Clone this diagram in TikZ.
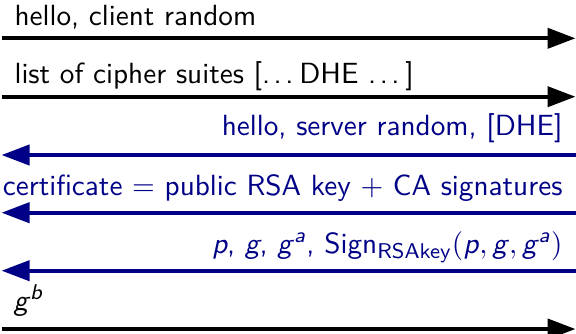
\documentclass[tikz,border=0pt]{standalone}
\usepackage{amsmath}
\usetikzlibrary{arrows.meta}
\definecolor{srvblue}{RGB}{0,0,135}
% spaced ellipsis with a trailing kern
\newcommand\spdots{.\kern1.3pt.\kern1.3pt.\kern2.2pt}
\begin{document}
\begin{tikzpicture}[x=0.375pt,y=-0.375pt,
  msg/.style={line width=1.5pt,-{Triangle[length=10.5pt,width=7.5pt]}},
  lbl/.style={inner sep=0pt,font=\sffamily\fontsize{10.95}{13}\selectfont},
  client/.style={msg,black},
  server/.style={msg,srvblue},
]
\useasboundingbox (0,0) rectangle (576,333);

% line ends: client side on the left, server side on the right
\foreach \i/\y in {1/38.3,2/96.7,3/155,4/212.7,5/270.7,6/329}{
  \coordinate (c\i) at (1.5,\y);
  \coordinate (s\i) at (575.5,\y);
}

% client -> server
\node[lbl,anchor=base west] (m1) at (14,25) {hello, client random};
\draw[client] (c1) -- (s1);

\node[lbl,anchor=base west] (m2) at (14,83) {list of cipher suites [\spdots DHE \spdots]};
\draw[client] (c2) -- (s2);

% server -> client
\node[lbl,anchor=base east,text=srvblue] (m3) at (563,135) {hello, server random, [DHE]};
\draw[server] (s3) -- (c3);

\node[lbl,anchor=base east,text=srvblue] (m4) at (563,195) {certificate $=$ public RSA key $+$ CA signatures};
\draw[server] (s4) -- (c4);

\node[lbl,anchor=base east,text=srvblue] (m5) at (563,253)
  {\textit{p}, \textit{g}, \textit{g}$^{\text{\textit{a}}}$, Sign$_{\text{RSAkey}}(\text{\textit{p}}, \text{\textit{g}}, \text{\textit{g}}^{\text{\textit{a}}})$};
\draw[server] (s5) -- (c5);

% client -> server
\node[lbl,anchor=base west] (m6) at (13,310) {\textit{g}$^{\text{\textit{b}}}$};
\draw[client] (c6) -- (s6);
\end{tikzpicture}
\end{document}
